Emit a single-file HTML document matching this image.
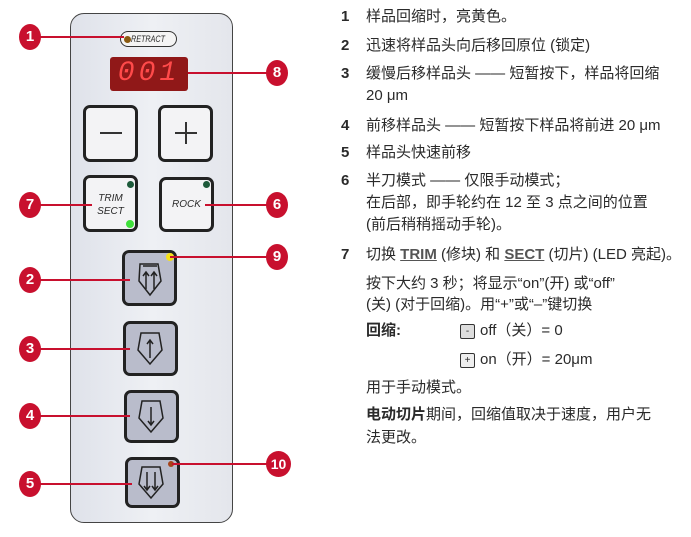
<!DOCTYPE html>
<html><head><meta charset="utf-8"><style>
body{margin:0;width:691px;height:537px;background:#fff;position:relative;overflow:hidden;font-family:"Liberation Sans Narrow","Liberation Sans","Noto Sans CJK SC",sans-serif;color:#2a2a2a}
.t{position:absolute;left:366px;font-size:15px;line-height:22px;white-space:nowrap}
.n{position:absolute;left:341px;font-size:15px;font-weight:bold;line-height:22px}
.panel{position:absolute;left:70px;top:13px;width:161px;border:1.5px solid #444;border-radius:14px;background:linear-gradient(90deg,#dfe2ea,#eef0f4 50%,#e4e6ec);height:508px}
.btn{position:absolute;border:3px solid #222;border-radius:7px;background:#f3f3f5;box-sizing:border-box}
.ab{position:absolute;border:3px solid #222;border-radius:7px;background:#b9bccb;box-sizing:border-box;width:55px}
.c{position:absolute;width:22px;height:26px;border-radius:50%;background:#c8102e;color:#fff;font:bold 15px/26px "Liberation Sans Narrow","Liberation Sans",sans-serif;text-align:center}
.l{position:absolute;height:2px;background:#c8102e}
.u{text-decoration:underline;color:#555;font-weight:bold}
</style></head><body>
<div class="panel"></div>
<div style="position:absolute;left:120px;top:31px;width:57px;height:16px;border:1.5px solid #333;border-radius:9px;background:#f4f4f4;box-sizing:border-box"></div>
<div style="position:absolute;left:131px;top:32px;width:44px;font:italic 9px/14px 'Liberation Sans',sans-serif;transform:scaleX(0.8);transform-origin:left;white-space:nowrap">RETRACT</div>
<div style="position:absolute;left:124px;top:36px;width:7px;height:7px;border-radius:50%;background:#8a5a10"></div>
<div style="position:absolute;left:110px;top:57px;width:78px;height:34px;background:#901818;border-radius:3px;color:#ff4a4a;font:italic 28px/34px 'Liberation Mono',monospace;text-align:center;letter-spacing:4px">001</div>
<div class="btn" style="left:83px;top:105px;width:55px;height:57px"></div>
<div style="position:absolute;left:100px;top:132px;width:22px;height:1.5px;background:#333"></div>
<div class="btn" style="left:158px;top:105px;width:55px;height:57px"></div>
<div style="position:absolute;left:175px;top:132px;width:22px;height:1.5px;background:#333"></div>
<div style="position:absolute;left:185px;top:122px;width:1.5px;height:22px;background:#333"></div>
<div class="btn" style="left:83px;top:175px;width:55px;height:57px;font:italic 10px/13px 'Liberation Sans Narrow',sans-serif;text-align:center;padding-top:14px">TRIM<br>SECT</div>
<div style="position:absolute;left:127px;top:181px;width:7px;height:7px;border-radius:50%;background:#1d5a3a"></div>
<div style="position:absolute;left:126px;top:220px;width:8px;height:8px;border-radius:50%;background:#3fe03a"></div>
<div class="btn" style="left:159px;top:177px;width:55px;height:55px;font:italic 10px/49px 'Liberation Sans Narrow',sans-serif;text-align:center">ROCK</div>
<div style="position:absolute;left:203px;top:181px;width:7px;height:7px;border-radius:50%;background:#1d5a3a"></div>
<div class="ab" style="left:122px;top:250px;height:56px"></div>
<div class="ab" style="left:123px;top:321px;height:55px"></div>
<div class="ab" style="left:124px;top:390px;height:53px"></div>
<div class="ab" style="left:125px;top:457px;height:51px"></div>
<svg style="position:absolute;left:0;top:0" width="691" height="537" fill="none" stroke="#222" stroke-width="1.5">
<path d="M140 264h18l3 17-11 14-11-14z"/><path d="M146 272v17M154 272v17M143 276l3-4 3 4M151 276l3-4 3 4M143 266h14"/>
<path d="M141 333h18l3 17-12 14-12-14z"/><path d="M150 340v18M147 344l3-4 3 4"/>
<path d="M142 401h18l3 17-12 14-12-14z"/><path d="M151 407v18M148 421l3 4 3-4"/>
<path d="M142 467h18l3 17-12 14-12-14z"/><path d="M147 472v18M155 472v18M144 486l3 4 3-4M152 486l3 4 3-4"/>
</svg>
<div style="position:absolute;left:166px;top:253px;width:8px;height:8px;border-radius:50%;background:#f5e018"></div>
<div style="position:absolute;left:168px;top:461px;width:6px;height:6px;border-radius:50%;background:#a5441a"></div>
<div class="l" style="left:40px;top:36px;width:84px"></div><div class="c" style="left:19px;top:24px">1</div>
<div class="l" style="left:188px;top:72px;width:80px"></div><div class="c" style="left:266px;top:60px">8</div>
<div class="l" style="left:40px;top:204px;width:52px"></div><div class="c" style="left:19px;top:192px">7</div>
<div class="l" style="left:205px;top:204px;width:62px"></div><div class="c" style="left:266px;top:192px">6</div>
<div class="l" style="left:170px;top:256px;width:97px"></div><div class="c" style="left:266px;top:244px">9</div>
<div class="l" style="left:40px;top:279px;width:90px"></div><div class="c" style="left:19px;top:267px">2</div>
<div class="l" style="left:40px;top:348px;width:90px"></div><div class="c" style="left:19px;top:336px">3</div>
<div class="l" style="left:40px;top:415px;width:90px"></div><div class="c" style="left:19px;top:403px">4</div>
<div class="l" style="left:40px;top:483px;width:92px"></div><div class="c" style="left:19px;top:471px">5</div>
<div class="l" style="left:172px;top:463px;width:96px"></div><div class="c" style="left:266px;top:451px;width:25px;font-size:14px">10</div>

<div class="n" style="top:6px">1</div><div class="t" style="top:6px">样品回缩时，亮黄色。</div>
<div class="n" style="top:35px">2</div><div class="t" style="top:35px">迅速将样品头向后移回原位 (锁定)</div>
<div class="n" style="top:63px">3</div><div class="t" style="top:63px">缓慢后移样品头 —— 短暂按下，样品将回缩<br>20 μm</div>
<div class="n" style="top:115px">4</div><div class="t" style="top:115px">前移样品头 —— 短暂按下样品将前进 20 μm</div>
<div class="n" style="top:142px">5</div><div class="t" style="top:142px">样品头快速前移</div>
<div class="n" style="top:170px">6</div><div class="t" style="top:170px">半刀模式 —— 仅限手动模式；<br>在后部，即手轮约在 12 至 3 点之间的位置<br>(前后稍稍摇动手轮)。</div>
<div class="n" style="top:244px">7</div><div class="t" style="top:244px">切换 <span class="u">TRIM</span> (修块) 和 <span class="u">SECT</span> (切片) (LED 亮起)。</div>
<div class="t" style="top:273px;line-height:21px">按下大约 3 秒；将显示“on”(开) 或“off”<br>(关) (对于回缩)。用“+”或“–”键切换</div>
<div class="t" style="top:320px;font-weight:bold">回缩:</div>
<div style="position:absolute;left:460px;top:324px;width:13px;height:13px;border:1.5px solid #333;border-radius:2px;background:#ddd;font:10px/13px sans-serif;text-align:center">-</div>
<div class="t" style="left:480px;top:320px">off（关）= 0</div>
<div style="position:absolute;left:460px;top:353px;width:13px;height:13px;border:1.5px solid #333;border-radius:2px;background:#eee;font:10px/13px sans-serif;text-align:center">+</div>
<div class="t" style="left:480px;top:349px">on（开）= 20μm</div>
<div class="t" style="top:377px">用于手动模式。</div>
<div class="t" style="top:403px;line-height:23px"><b>电动切片</b>期间，回缩值取决于速度，用户无<br>法更改。</div>
</body></html>
